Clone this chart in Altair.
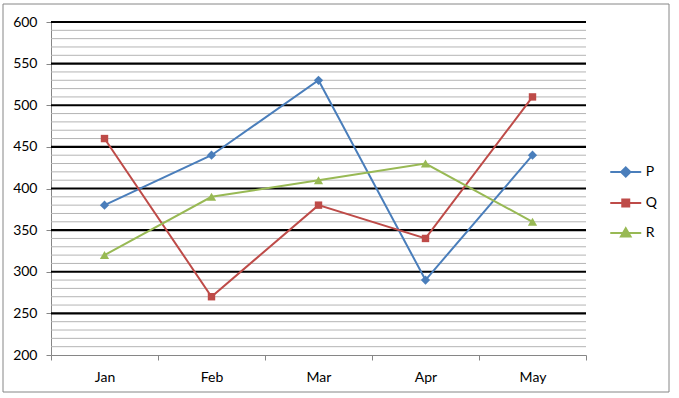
import altair as alt
import pandas as pd

months = ["Jan", "Feb", "Mar", "Apr", "May"]
series_names = ["P", "Q", "R"]
p_values = [380, 440, 530, 290, 440]
q_values = [460, 270, 380, 340, 510]
r_values = [320, 390, 410, 430, 360]
y_ticks = [200, 250, 300, 350, 400, 450, 500, 550, 600]
major_grid = [250, 300, 350, 400, 450, 500, 550, 600]
minor_grid = [v for v in range(210, 600, 10) if v % 50 != 0]

colors = ["#4A7EBB", "#BE4B48", "#98B954"]
shapes = ["diamond", "square", "triangle-up"]
shape_sizes = [85, 55, 85]
legend_paths = [
    "M-2,0L2,0M0,-0.6L0.6,0L0,0.6L-0.6,0Z",
    "M-2,0L2,0M-0.45,-0.45L0.45,-0.45L0.45,0.45L-0.45,0.45Z",
    "M-2,0L2,0M0,-0.62L0.62,0.45L-0.62,0.45Z",
]

FONT = "Lato"
FS = 14

rows = []
for name, vals in zip(series_names, [p_values, q_values, r_values]):
    for m, v in zip(months, vals):
        rows.append({"month": m, "series": name, "value": v})
df = pd.DataFrame(rows)

x_enc = alt.X(
    "month:N",
    sort=months,
    scale=alt.Scale(type="band", paddingInner=0, paddingOuter=0),
    axis=alt.Axis(
        title=None, grid=False, tickBand="extent", tickSize=5,
        domainColor="#868686", tickColor="#868686", labelAngle=0,
        labelFont=FONT, labelFontSize=FS, labelColor="#000000", labelPadding=10,
    ),
)
y_scale = alt.Scale(domain=[200, 600], nice=False, zero=False)
y_axis = alt.Axis(
    title=None, grid=False, values=y_ticks, tickSize=5,
    domainColor="#868686", tickColor="#868686",
    labelFont=FONT, labelFontSize=FS, labelColor="#000000", labelPadding=9,
)
y_enc = alt.Y("value:Q", scale=y_scale, axis=y_axis)

minor = alt.Chart(pd.DataFrame({"value": minor_grid})).mark_rule(
    color="#b4b4b4", strokeWidth=1
).encode(y=y_enc)
major = alt.Chart(pd.DataFrame({"value": major_grid})).mark_rule(
    color="#000000", strokeWidth=2.2
).encode(y=y_enc)

layers = [minor, major]
for name, c in zip(series_names, colors):
    base = alt.Chart(df).transform_filter(alt.datum.series == name)
    layers.append(base.mark_line(color=c, strokeWidth=2).encode(x=x_enc, y=y_enc))
for name, c, shp, sz in zip(series_names, colors, shapes, shape_sizes):
    base = alt.Chart(df).transform_filter(alt.datum.series == name)
    layers.append(
        base.mark_point(shape=shp, filled=True, size=sz, color=c, opacity=1).encode(x=x_enc, y=y_enc)
    )

legend_df = pd.DataFrame({"series": series_names})
legend_layer = alt.Chart(legend_df).mark_point(filled=True, opacity=0).encode(
    color=alt.Color("series:N", scale=alt.Scale(domain=series_names, range=colors), title=None),
    stroke=alt.Stroke("series:N", scale=alt.Scale(domain=series_names, range=colors), title=None),
    shape=alt.Shape(
        "series:N",
        scale=alt.Scale(domain=series_names, range=legend_paths),
        title=None,
        legend=alt.Legend(
            orient="none", legendX=565.75, legendY=141, padding=0,
            symbolSize=240, symbolStrokeWidth=2, symbolOpacity=1,
            rowPadding=13, labelOffset=11,
            labelFont=FONT, labelFontSize=FS, labelColor="#000000",
        ),
    ),
)
layers.append(legend_layer)

border = alt.Chart(pd.DataFrame({"a": [0]})).mark_rect(
    fill=None, stroke="#868686", strokeWidth=1
).encode(x=alt.value(-48), x2=alt.value(618), y=alt.value(-18), y2=alt.value(370))
layers.append(border)

chart = alt.layer(*layers).properties(
    width=535,
    height=333,
    autosize=alt.AutoSizeParams(type="none"),
    padding={"left": 51, "top": 22, "right": 93, "bottom": 43},
    background="#ffffff",
).configure_view(strokeWidth=0)

chart.save("out.html", embed_options={"renderer": "svg", "actions": False})
